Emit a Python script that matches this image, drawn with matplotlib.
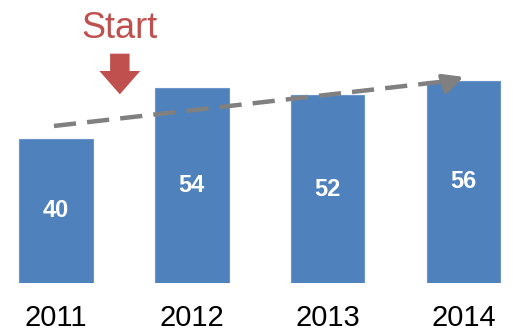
import matplotlib
matplotlib.use('Agg')
import matplotlib.pyplot as plt
from matplotlib.patches import FancyArrowPatch

years = ['2011', '2012', '2013', '2014']
values = [40, 54, 52, 56]

plt.rcParams['font.family'] = ['Liberation Sans', 'DejaVu Sans']

fig = plt.figure(figsize=(5.13, 3.34), dpi=100)
ax = fig.add_axes([0, 51 / 334, 1, 283 / 334])

x = list(range(len(years)))
bars = ax.bar(x, values, width=0.54, color='#4F81BD', edgecolor='#6A95CC', linewidth=0.8)
for xi, v in zip(x, values):
    ax.text(xi, v / 2, str(v), ha='center', va='center', color='white',
            fontsize=17, fontweight='bold')

ax.set_xlim(-0.412, 3.364)
ax.set_ylim(0, 78.4)
ax.set_xticks(x)
ax.set_xticklabels(years, fontsize=21)
ax.tick_params(axis='x', length=0, pad=15)
ax.set_yticks([])
for s in ax.spines.values():
    s.set_visible(False)

# dashed trend arrow
ax.plot([-0.015, 2.92], [43.5, 56.1], color='#808080', lw=3.2,
        linestyle=(0, (5, 2.5)), solid_capstyle='butt')
ax.annotate('', xy=(3.0, 57.1), xytext=(2.90, 55.8),
            arrowprops=dict(arrowstyle='-|>,head_length=1.2,head_width=0.6',
                            color='#808080', lw=3.2, shrinkA=0, shrinkB=0))

# Start marker
ax.text(0.47, 70.4, 'Start', ha='center', va='center', color='#C0504D', fontsize=26)
arr = FancyArrowPatch((0.47, 64.3), (0.47, 51.5),
                      arrowstyle='simple,head_width=2.1,head_length=1.2,tail_width=1.0',
                      mutation_scale=14, color='#C0504D', lw=0)
ax.add_patch(arr)

fig.savefig('out.png', dpi=100)
